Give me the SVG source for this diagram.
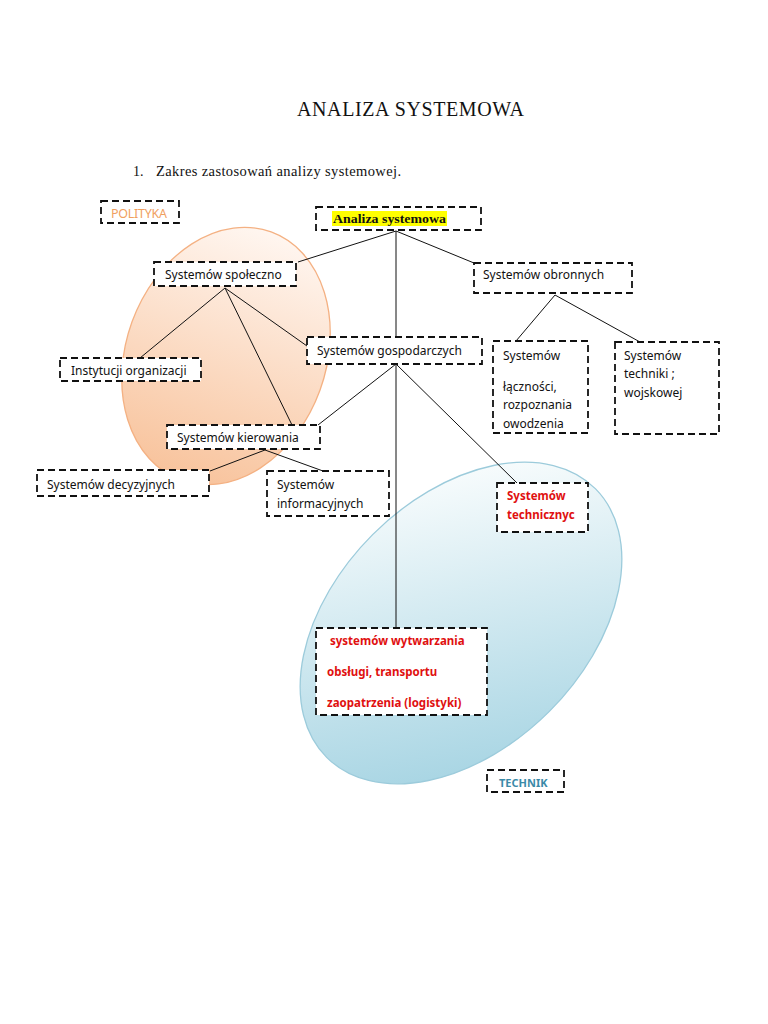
<svg xmlns="http://www.w3.org/2000/svg" width="768" height="1024" viewBox="0 0 768 1024">
<defs>
<linearGradient id="gOr" x1="0" y1="0" x2="0" y2="1">
<stop offset="0" stop-color="#FFF6F0"/>
<stop offset="1" stop-color="#F8C39C"/>
</linearGradient>
<linearGradient id="gBl" x1="0.85" y1="0.15" x2="0.15" y2="0.85">
<stop offset="0" stop-color="#F6FBFC"/>
<stop offset="1" stop-color="#AAD6E4"/>
</linearGradient>
<style>
.box{fill:#fff;stroke:#111;stroke-width:1.8;stroke-dasharray:7 4}
.boxn{fill:none;stroke:#111;stroke-width:1.8;stroke-dasharray:7 4}
.t{font-family:"Noto Sans","Open Sans",sans-serif;font-size:12px;fill:#111}
.r{font-family:"Noto Sans","Open Sans",sans-serif;font-size:11.5px;font-weight:bold;fill:#E01010}
.c{stroke:#111;stroke-width:1;fill:none}
</style>
</defs>
<rect width="768" height="1024" fill="#fff"/>
<text x="297" y="116" font-family="Liberation Serif,serif" font-size="20" fill="#111" textLength="227" lengthAdjust="spacing">ANALIZA SYSTEMOWA</text>
<text x="133" y="176" font-family="Liberation Serif,serif" font-size="14" fill="#111">1.</text>
<text x="156" y="176" font-family="Liberation Serif,serif" font-size="14.5" fill="#111" textLength="245" lengthAdjust="spacing">Zakres zastosowań analizy systemowej.</text>

<g id="ellipses">
<ellipse cx="226" cy="356" rx="100" ry="132" transform="rotate(20 226 356)" fill="url(#gOr)" stroke="#F4B183" stroke-width="1.3"/>
<ellipse cx="461" cy="623" rx="190" ry="125" transform="rotate(-45 461 623)" fill="url(#gBl)" stroke="#9CCBDB" stroke-width="1.3"/>
</g>

<g id="connectors">
<line class="c" x1="396" y1="231" x2="298" y2="262"/>
<line class="c" x1="396" y1="231" x2="474" y2="263"/>
<line class="c" x1="396" y1="231" x2="396" y2="337"/>
<line class="c" x1="225" y1="288" x2="140" y2="358"/>
<line class="c" x1="225" y1="288" x2="307" y2="346"/>
<line class="c" x1="225" y1="288" x2="292" y2="425"/>
<line class="c" x1="396" y1="364" x2="318" y2="425"/>
<line class="c" x1="396" y1="364" x2="396" y2="628"/>
<line class="c" x1="396" y1="364" x2="517" y2="483"/>
<line class="c" x1="555" y1="295" x2="516" y2="341"/>
<line class="c" x1="555" y1="295" x2="640" y2="342"/>
<line class="c" x1="265" y1="450" x2="210" y2="471"/>
<line class="c" x1="265" y1="450" x2="323" y2="471"/>
</g>

<g id="polityka">
<rect class="box" x="101" y="201" width="78" height="22"/>
<text x="111" y="218" font-family="Noto Sans,sans-serif" font-size="12.5" fill="#F0A060" textLength="56" lengthAdjust="spacing">POLITYKA</text>
</g>
<g id="analiza">
<rect class="box" x="316" y="207" width="165" height="23"/>
<rect x="332" y="211" width="115" height="15" fill="#FFFF00"/>
<text x="333" y="223" font-family="Liberation Serif,serif" font-size="13.5" font-weight="bold" fill="#111" textLength="113" lengthAdjust="spacingAndGlyphs">Analiza systemowa</text>
</g>
<g id="spoleczno">
<rect class="box" x="154" y="262" width="142" height="24"/>
<text class="t" x="165" y="279">Systemów społeczno</text>
</g>
<g id="obronnych">
<rect class="box" x="474" y="263" width="158" height="30"/>
<text class="t" x="483" y="279">Systemów obronnych</text>
</g>
<g id="gospodarczych">
<rect class="box" x="307" y="337" width="175" height="27"/>
<text class="t" x="317" y="355">Systemów gospodarczych</text>
</g>
<g id="instytucji">
<rect class="box" x="60" y="358" width="141" height="23"/>
<text class="t" x="71" y="375">Instytucji organizacji</text>
</g>
<g id="lacznosci">
<rect class="box" x="493" y="341" width="95" height="92"/>
<text class="t" x="503" y="360">Systemów</text>
<text class="t" x="503" y="391">łączności,</text>
<text class="t" x="503" y="409">rozpoznania</text>
<text class="t" x="503" y="428">owodzenia</text>
</g>
<g id="techniki">
<rect class="box" x="615" y="342" width="104" height="92"/>
<text class="t" x="624" y="360">Systemów</text>
<text class="t" x="624" y="378">techniki ;</text>
<text class="t" x="624" y="397">wojskowej</text>
</g>
<g id="kierowania">
<rect class="box" x="167" y="425" width="153" height="24"/>
<text class="t" x="177" y="442">Systemów kierowania</text>
</g>
<g id="decyzyjnych">
<rect class="box" x="37" y="470" width="172" height="26"/>
<text class="t" x="47" y="489">Systemów decyzyjnych</text>
</g>
<g id="informacyjnych">
<rect class="box" x="267" y="471" width="122" height="45"/>
<text class="t" x="277" y="489">Systemów</text>
<text class="t" x="277" y="508">informacyjnych</text>
</g>
<g id="technicznyc">
<rect class="box" x="497" y="483" width="91" height="49"/>
<text class="r" x="507" y="500">Systemów</text>
<text class="r" x="507" y="519">technicznyc</text>
</g>
<g id="wytwarzania">
<rect class="box" x="316" y="628" width="171" height="87"/>
<text class="r" x="330" y="645">systemów wytwarzania</text>
<text class="r" x="327" y="676">obsługi, transportu</text>
<text class="r" x="327" y="707">zaopatrzenia (logistyki)</text>
</g>
<g id="technik">
<rect class="boxn" x="487" y="770" width="77" height="22"/>
<text x="499" y="787" font-family="Noto Sans,sans-serif" font-size="11" font-weight="bold" fill="#3A8AA8">TECHNIK</text>
</g>
</svg>
